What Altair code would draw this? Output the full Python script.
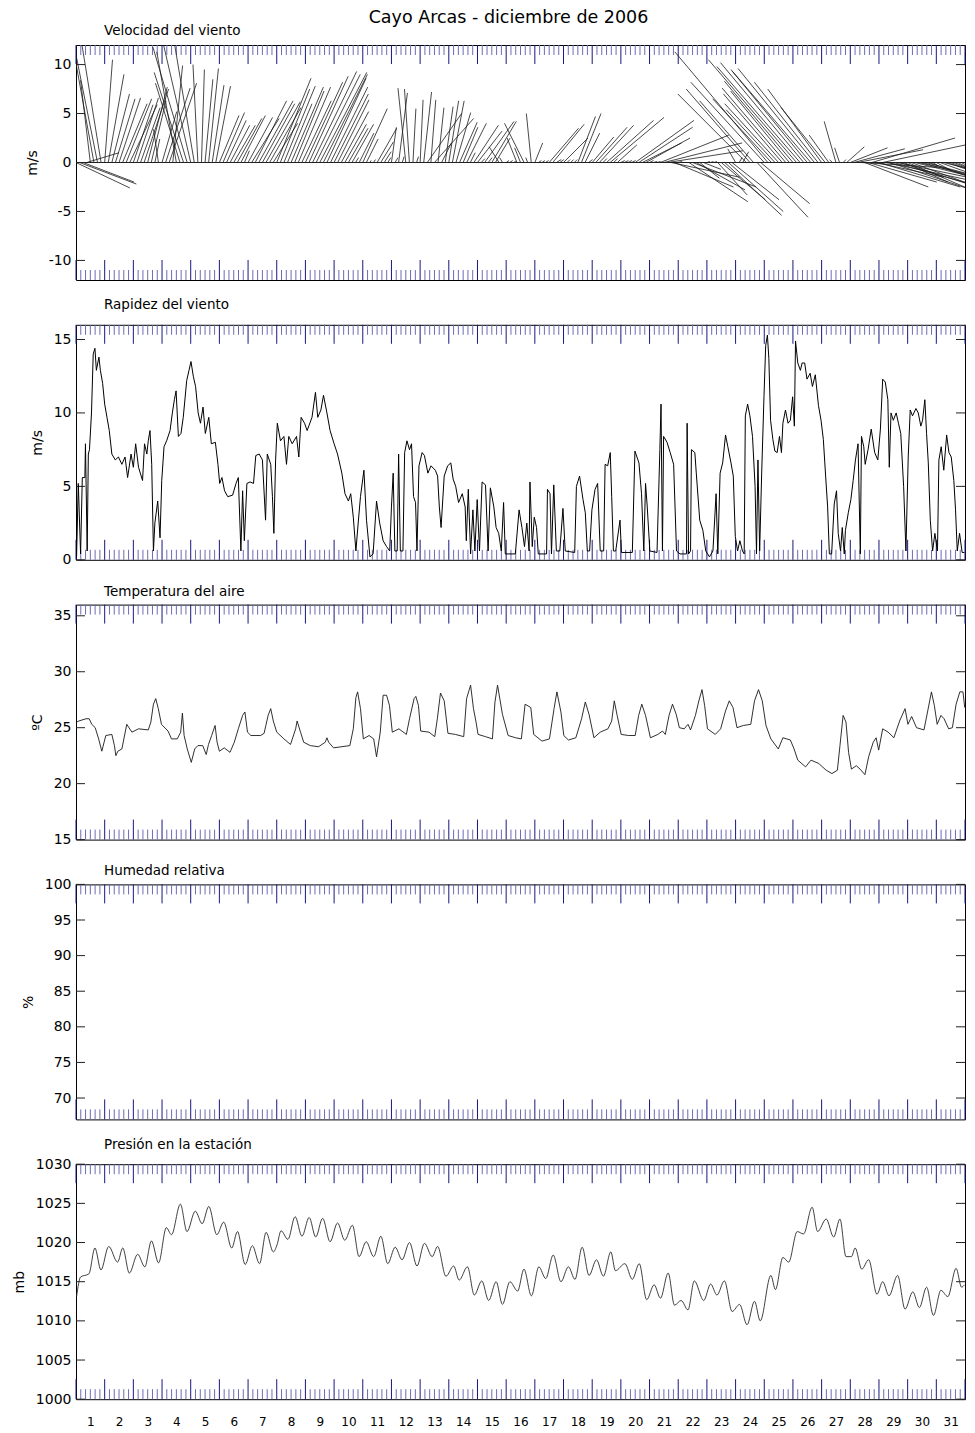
import altair as alt
import pandas as pd

# ---------------------------------------------------------------- text
TITLE = "Cayo Arcas - diciembre de 2006"
PANEL_TITLES = ["Velocidad del viento", "Rapidez del viento", "Temperatura del aire",
                "Humedad relativa", "Presión en la estación"]
Y_TITLES = ["m/s", "m/s", "ºC", "%", "mb"]
Y_DOMAINS = [[-12, 12], [0, 16], [15, 36], [67, 100], [1000, 1030]]
Y_TICKS = [[-10, -5, 0, 5, 10], [0, 5, 10, 15], [15, 20, 25, 30, 35],
           [70, 75, 80, 85, 90, 95, 100], [1000, 1005, 1010, 1015, 1020, 1025, 1030]]
DAYS = list(range(1, 32))

# ---------------------------------------------------------------- wind vectors (3-hourly sticks)
STICK_T = [d + h / 8 for d in DAYS for h in range(8)]
STICK_U = [
    5.5, 5.8, 5.2, 3.3, -1.0, -2.5, -2.6, -2.0,      # 1
    0.8, 1.6, 1.8, 2.0, 2.2, 2.5, 2.6, 2.8,          # 2
    2.0, 2.2, 2.0, 2.5, 2.0, 1.5, 0.5, -0.5,         # 3
    1.5, 2.5, 2.8, 1.0, -2.0, -2.5, -3.0, -3.5,      # 4
    -3.0, -2.0, -0.5, 0.3, 0.8, 1.0, 1.2, 1.5,       # 5
    2.0, 2.2, 2.0, 2.0, 2.2, 2.5, 2.5, 0.5,          # 6
    2.5, 2.8, 3.2, 3.5, 3.3, 3.5, 3.2, 2.5,          # 7
    3.5, 3.0, 3.2, 2.5, 3.3, 3.0, 3.3, 3.0,          # 8
    3.8, 4.0, 4.5, 4.5, 4.8, 4.5, 4.0, 3.8,          # 9
    3.5, 3.2, 2.8, 2.2, 2.0, 2.2, 0.3, 1.5,          # 10
    2.5, 1.2, 0.1, 0.2, 2.0, 1.3, 0.7, 0.3,          # 11
    0.5, 0.3, 0.9, 0.2, -0.8, -0.5, 0.3, 0.2,        # 12
    0.3, 0.8, 3.5, 0.5, 4.0, 0.6, 1.0, 0.8,          # 13
    1.0, 1.2, 1.5, 1.8, 1.5, 2.0, 0.5, 2.5,          # 14
    2.5, 0.4, 3.0, 0.4, 2.5, 1.5, -1.0, -0.3,        # 15
    0.3, 0.3, 0.3, -1.0, -0.6, -2.0, -0.2, -0.5,     # 16
    0.8, 0.3, 0.3, 0.3, 3.0, 3.2, 0.5, 0.4,          # 17
    2.5, 0.3, 0.3, 0.3, 1.8, 2.0, 1.5, 0.4,          # 18
    2.2, 3.2, 3.5, 0.4, 4.8, 5.5, 0.4, 2.0,          # 19
    0.4, 0.4, 0.4, 0.4, 6.0, 5.5, 4.0, 4.5,          # 20
    0.4, 0.4, 0.4, 7.0, 8.0, 7.7, 7.0, 6.0,          # 21
    0.4, 0.4, 0.4, 6.0, 6.5, 5.0, 2.0, 1.8,          # 22
    0.3, 0.3, 0.3, 3.0, 4.5, 5.8, 5.6, 4.8,          # 23
    -0.8, 0.3, 0.6, -7.0, -6.5, -5.5, 5.2, 5.0,      # 24
    -7.5, -9.5, -6.0, -5.0, -5.5, -6.0, -6.5, -6.0,  # 25
    -7.0, -9.0, -8.5, -8.5, -7.8, -8.0, -7.8, -6.5,  # 26
    -5.5, -4.5, -2.0, -0.3, -1.2, -0.5, 0.3, 1.8,    # 27
    3.8, 5.2, 6.7, 7.8, 6.5, 7.0, 8.5, 7.0,          # 28
    8.3, 11.8, 11.8, 9.0, 9.0, 9.6, 8.2, 4.5,        # 29
    6.5, 9.5, 10.0, 9.7, 9.0, 10.5, 7.0, 0.5,        # 30
    1.5, 7.0, 6.0, 8.0, 6.8, 5.0, 1.0, 1.5,          # 31
]
STICK_V = [
    -2.6, -2.2, -2.0, 1.0, 8.4, 13.8, 13.0, 12.3,    # 1
    10.5, 9.0, 7.0, 6.5, 6.6, 6.0, 6.5, 5.9,         # 2
    5.9, 6.6, 5.6, 7.5, 7.7, 6.3, 2.4, 3.4,          # 3
    5.2, 7.6, 8.1, 9.9, 11.3, 8.1, 9.2, 11.8,        # 4
    13.0, 12.0, 10.0, 9.5, 8.5, 9.6, 7.9, 7.8,       # 5
    4.8, 5.1, 4.3, 3.8, 3.8, 4.5, 4.8, 1.2,          # 6
    4.6, 4.5, 6.3, 6.3, 6.0, 6.2, 5.6, 4.0,          # 7
    8.6, 7.5, 7.8, 6.0, 7.7, 7.3, 7.7, 6.3,          # 8
    8.2, 8.8, 9.3, 9.0, 9.2, 9.0, 8.6, 7.7,          # 9
    7.0, 6.4, 5.2, 3.9, 3.5, 3.9, 0.5, 3.0,          # 10
    5.5, 2.4, 0.2, 0.3, 3.5, 2.1, 1.1, 0.5,          # 11
    3.6, 0.5, 7.1, 0.6, 7.6, 7.5, 5.5, 0.6,          # 12
    6.4, 7.2, 5.0, 6.4, 4.5, 5.6, 2.0, 5.7,          # 13
    6.3, 6.3, 5.1, 4.1, 3.6, 4.0, 1.0, 3.8,          # 14
    3.2, 0.4, 4.2, 0.5, 4.2, 2.5, 1.6, 0.5,          # 15
    0.2, 0.2, 0.1, 2.5, 1.5, 4.0, 0.5, 5.0,          # 16
    2.0, 0.2, 0.2, 0.2, 3.5, 3.9, 0.3, 0.3,          # 17
    2.5, 0.3, 0.3, 0.3, 4.7, 5.0, 3.0, 0.3,          # 18
    2.6, 3.6, 3.8, 0.4, 4.3, 4.6, 0.4, 1.8,          # 19
    0.2, 0.2, 0.2, 0.2, 4.3, 3.6, 2.0, 2.5,          # 20
    0.2, 0.1, 0.1, 2.8, 2.0, 1.2, -1.5, -2.5,        # 21
    0.1, 0.0, 0.0, -4.0, -2.5, -2.8, -1.6, -0.7,     # 22
    0.1, 0.1, 0.1, -3.3, -3.8, -5.4, -5.0, -3.8,     # 23
    1.4, 0.5, 1.1, 7.0, 7.5, 6.3, -5.6, -4.2,        # 24
    8.2, 11.3, 6.5, 5.4, 6.0, 7.0, 7.6, 7.3,         # 25
    8.3, 10.5, 9.8, 10.2, 9.5, 9.3, 9.6, 8.2,        # 26
    7.5, 5.6, 2.8, 0.3, 4.2, 1.5, 0.3, 1.6,          # 27
    1.5, 1.4, 1.3, -0.5, -2.5, -2.0, 2.5, -1.5,      # 28
    -2.5, 2.5, -2.5, -3.0, -2.5, -2.0, -2.6, -2.0,   # 29
    -2.8, -3.5, -2.5, -2.3, -2.5, -2.8, -2.5, -0.3,  # 30
    -0.8, -2.5, -1.5, -2.8, -2.5, -2.0, -0.5, -0.8,  # 31
]

# ---------------------------------------------------------------- wind speed (m/s)
SPD_T = [1.02, 1.08, 1.16, 1.22, 1.31, 1.33, 1.39, 1.43, 1.47, 1.54, 1.60, 1.66, 1.71, 1.80, 1.85, 1.93,
         2.00, 2.08, 2.16, 2.25, 2.37, 2.48, 2.60, 2.71, 2.80, 2.92, 3.00, 3.08, 3.18, 3.32, 3.39, 3.47,
         3.52, 3.58, 3.64, 3.70, 3.75, 3.85, 3.93, 3.99, 4.07, 4.16, 4.28, 4.36, 4.43, 4.49, 4.57, 4.66,
         4.74, 4.86, 4.94, 5.01, 5.09, 5.17, 5.26, 5.34, 5.43, 5.51, 5.63, 5.72, 5.86, 5.95, 6.01, 6.09,
         6.18, 6.29, 6.46, 6.58, 6.66, 6.75, 6.81, 6.87, 6.96, 7.07, 7.19, 7.27, 7.39, 7.50, 7.61, 7.67,
         7.79, 7.85, 7.90, 7.96, 8.02, 8.13, 8.25, 8.34, 8.42, 8.54, 8.69, 8.77, 8.85, 8.97, 9.06, 9.23,
         9.35, 9.43, 9.54, 9.63, 9.75, 9.86, 10.00, 10.12, 10.27, 10.38, 10.50, 10.58, 10.67, 10.76, 10.84, 10.92,
         11.04, 11.13, 11.25, 11.36, 11.48, 11.59, 11.71, 11.83, 11.94,
         12.00, 12.06, 12.12, 12.20, 12.25, 12.31, 12.40, 12.46, 12.54, 12.63, 12.70, 12.77, 12.84, 12.89, 12.96, 13.07,
         13.15, 13.27, 13.38, 13.53, 13.61, 13.67, 13.73, 13.84, 13.96, 14.07, 14.15, 14.24, 14.34, 14.47, 14.57, 14.61,
         14.68, 14.76, 14.84, 14.91, 14.99, 15.07, 15.16, 15.28, 15.37, 15.45, 15.57, 15.65, 15.74, 15.83, 15.91, 15.97,
         16.32, 16.45, 16.55, 16.64, 16.72, 16.80, 16.83, 16.91, 16.98, 17.06, 17.12, 17.41, 17.44, 17.53, 17.58, 17.66,
         17.75, 17.87, 17.98, 18.06, 18.39, 18.45, 18.56, 18.68, 18.76, 18.83, 18.91, 18.99, 19.10, 19.19, 19.28, 19.40,
         19.45, 19.54, 19.63, 19.68, 19.74, 19.82, 19.97, 20.02, 20.40, 20.49, 20.63, 20.72, 20.80, 20.86, 20.92, 21.01,
         21.26, 21.36, 21.40, 21.45, 21.49, 21.61, 21.72, 21.84,
         21.94, 22.06, 22.29, 22.31, 22.36, 22.43, 22.46, 22.58, 22.63, 22.75, 22.86, 22.96, 23.09, 23.21, 23.32, 23.38,
         23.46, 23.55, 23.65, 23.73, 23.84, 23.92, 23.99, 24.07, 24.15, 24.24, 24.30, 24.34, 24.42, 24.50, 24.59, 24.68,
         24.73, 24.78, 24.84, 24.91, 24.99, 25.05, 25.11, 25.16, 25.22, 25.30, 25.37, 25.45, 25.53, 25.60, 25.65, 25.74,
         25.83, 25.91, 25.99, 26.05, 26.09, 26.17, 26.26, 26.32, 26.41, 26.49, 26.60, 26.68, 26.78, 26.89, 26.98, 27.06,
         27.14, 27.21, 27.27, 27.35, 27.44, 27.52, 27.58, 27.66, 27.72, 27.79, 27.83, 27.93, 28.02, 28.10, 28.18, 28.27,
         28.35, 28.39, 28.47, 28.52, 28.62, 28.73, 28.85, 28.96, 29.05, 29.13, 29.22, 29.31, 29.36, 29.42, 29.50, 29.60,
         29.68, 29.76, 29.86, 29.94, 30.02, 30.09, 30.17, 30.29, 30.37, 30.46, 30.52, 30.60, 30.66, 30.72, 30.79, 30.87,
         30.95, 31.04, 31.09, 31.17, 31.26, 31.36, 31.44, 31.52, 31.61, 31.67, 31.73, 31.81, 31.90, 31.98]
SPD_V = [0.2, 5.2, 0.4, 5.6, 5.6, 7.9, 0.6, 7.2, 7.5, 10.0, 14.0, 14.4, 12.9, 13.8, 12.9, 12.0,
         10.6, 9.7, 8.8, 7.2, 6.8, 7.0, 6.5, 7.0, 5.6, 7.2, 6.3, 7.9, 6.3, 5.4, 7.9, 7.2,
         8.1, 8.8, 6.5, 0.6, 2.5, 4.0, 1.5, 5.4, 7.7, 8.1, 8.8, 10.0, 10.9, 11.5, 8.4, 8.6,
         9.7, 12.2, 12.9, 13.5, 12.5, 11.8, 10.0, 9.3, 10.4, 8.6, 9.7, 7.9, 8.0, 6.5, 5.2, 5.6,
         4.7, 4.3, 4.4, 5.2, 5.6, 0.6, 4.7, 1.3, 5.2, 5.3, 5.2, 7.1, 7.2, 6.8, 2.7, 7.2,
         6.5, 4.3, 1.8, 6.8, 9.3, 8.1, 8.4, 6.5, 8.4, 7.9, 8.4, 7.0, 9.7, 9.3, 8.8, 9.7,
         11.4, 9.7, 10.2, 11.2, 10.0, 8.8, 7.9, 7.2, 5.9, 4.5, 4.0, 4.5, 2.9, 0.6, 2.5, 4.3,
         6.1, 2.7, 0.2, 0.4, 4.0, 2.5, 1.3, 0.9, 0.6,
         3.6, 5.9, 0.6, 0.6, 7.2, 0.6, 0.6, 7.3, 8.1, 7.5, 7.9, 4.3, 3.9, 0.6, 6.4, 7.3,
         7.1, 5.9, 6.4, 6.1, 5.7, 3.6, 2.2, 5.7, 6.4, 6.6, 5.5, 5.0, 3.9, 4.5, 3.6, 1.3,
         4.8, 0.4, 3.4, 0.6, 4.1, 0.6, 5.3, 5.1, 0.6, 4.9, 3.6, 2.2, 1.8, 0.6, 3.9, 0.4,
         0.4, 3.4, 2.2, 0.9, 2.5, 0.6, 5.3, 0.9, 2.9, 2.2, 0.4, 0.4, 4.8, 4.5, 0.4, 5.1,
         0.6, 0.6, 3.5, 0.6, 0.5, 5.0, 5.7, 4.1, 3.2, 0.6, 0.6, 3.4, 4.8, 5.2, 0.6, 0.6,
         6.5, 6.4, 7.3, 4.3, 0.6, 0.6, 2.7, 0.5, 0.5, 7.4, 6.6, 4.5, 0.6, 5.2, 3.6, 0.6,
         0.5, 7.5, 10.6, 0.6, 8.4, 8.0, 7.3, 6.5,
         0.6, 0.4, 0.4, 9.3, 0.4, 0.6, 7.5, 7.3, 5.9, 2.7, 2.0, 0.6, 0.2, 0.6, 4.5, 0.4,
         5.9, 6.6, 8.5, 7.7, 6.6, 5.7, 1.6, 0.6, 1.3, 0.6, 0.4, 9.8, 10.6, 9.8, 8.4, 5.0,
         0.4, 6.8, 0.6, 5.9, 11.1, 14.6, 15.3, 13.7, 9.5, 8.2, 7.4, 7.3, 8.4, 7.3, 9.3, 10.2,
         9.3, 9.5, 11.1, 9.1, 14.9, 13.4, 12.9, 13.4, 13.4, 12.3, 12.7, 11.8, 12.6, 10.5, 9.5, 8.2,
         5.7, 3.6, 0.4, 0.4, 3.8, 4.7, 1.8, 0.6, 2.2, 0.4, 2.0, 3.2, 4.1, 5.4, 6.8, 7.9,
         0.4, 8.4, 7.7, 6.5, 7.5, 8.9, 7.3, 6.8, 8.9, 12.3, 12.1, 10.9, 6.3, 10.0, 9.5, 10.0,
         9.3, 8.6, 5.0, 0.6, 7.0, 10.2, 9.8, 10.3, 10.0, 9.1, 9.5, 10.9, 8.6, 6.6, 2.7, 0.6,
         1.8, 0.6, 6.8, 7.7, 6.1, 8.5, 7.3, 7.0, 5.4, 3.4, 0.6, 1.8, 0.5, 0.5]

# ---------------------------------------------------------------- air temperature (ºC)
TMP_T = [1.02, 1.10, 1.35, 1.46, 1.55, 1.67, 1.79, 1.90, 2.04, 2.25, 2.34, 2.39, 2.46, 2.60, 2.77, 2.95,
         3.18, 3.52, 3.61, 3.70, 3.78, 3.87, 3.98, 4.21, 4.33, 4.53, 4.65, 4.71, 4.77, 4.88, 5.02, 5.14,
         5.25, 5.42, 5.54, 5.62, 5.73, 5.85, 5.92, 6.00, 6.17, 6.37, 6.52, 6.66, 6.81, 6.89, 6.98, 7.10,
         7.44, 7.56, 7.62, 7.70, 7.79, 7.88, 8.00, 8.25, 8.48, 8.66, 8.71, 8.83, 8.94, 9.17, 9.46, 9.69,
         9.75, 9.81, 9.98, 10.55, 10.67, 10.76, 10.82, 10.92, 11.02, 11.22, 11.38, 11.48,
         11.61, 11.71, 11.83, 11.93, 12.03, 12.26, 12.52, 12.63, 12.79, 12.85, 12.94, 13.02, 13.31, 13.51, 13.60, 13.71,
         13.84, 13.97, 14.23, 14.52, 14.62, 14.76, 14.86, 14.95, 15.02, 15.28, 15.52, 15.61, 15.70, 15.87, 16.07, 16.33,
         16.53, 16.66, 16.86, 16.96, 17.25, 17.51, 17.67, 17.77, 17.91, 18.01, 18.17, 18.43, 18.63, 18.76, 18.89, 19.06,
         19.28, 19.55, 19.68, 19.77, 19.87, 20.01, 20.27, 20.50, 20.62, 20.73, 20.86, 21.03, 21.29, 21.45, 21.55, 21.68,
         21.80, 21.93, 22.04, 22.21, 22.34, 22.43, 22.60, 22.72, 22.83, 22.92, 23.02, 23.29, 23.48, 23.65, 23.78, 23.91,
         24.05, 24.27, 24.53, 24.66, 24.80, 24.93, 25.06, 25.23, 25.49, 25.65, 25.91, 26.04, 26.17, 26.44, 26.63, 26.90,
         27.16, 27.36, 27.55, 27.64, 27.75, 27.85, 27.94, 28.04, 28.21, 28.34, 28.51, 28.64, 28.80, 28.90, 28.99, 29.13,
         29.32, 29.52, 29.72, 29.91, 30.01, 30.14, 30.31, 30.57, 30.70, 30.83, 30.93, 31.03, 31.16, 31.27, 31.43, 31.56,
         31.69, 31.82, 31.93, 31.99]
TMP_V = [25.5, 25.6, 25.8, 25.8, 25.3, 25.0, 24.0, 22.9, 24.3, 24.4, 23.4, 22.5, 22.9, 23.1, 25.3, 24.6,
         24.9, 24.8, 25.5, 27.1, 27.6, 26.7, 25.3, 24.7, 24.0, 24.0, 24.6, 26.3, 24.3, 23.1, 21.9, 23.1,
         23.4, 23.4, 22.6, 23.5, 24.3, 25.2, 23.7, 22.9, 23.2, 22.8, 23.7, 24.9, 26.1, 26.4, 24.6, 24.3,
         24.3, 24.5, 25.2, 26.1, 26.7, 25.6, 24.6, 24.0, 23.5, 24.9, 25.6, 24.6, 23.7, 23.4, 23.3, 23.7,
         24.1, 23.7, 23.2, 23.4, 24.9, 27.7, 28.2, 26.7, 24.0, 24.3, 24.0, 22.4,
         24.6, 27.9, 27.9, 27.0, 24.6, 24.9, 24.4, 25.8, 27.6, 27.8, 27.0, 24.7, 24.6, 24.2, 25.8, 28.1,
         27.4, 24.5, 24.4, 24.2, 27.6, 28.8, 26.7, 25.5, 24.4, 24.2, 24.0, 27.3, 28.8, 26.2, 24.3, 24.1,
         24.0, 27.1, 26.8, 24.4, 23.8, 24.0, 26.7, 28.2, 26.4, 24.3, 23.9, 24.1, 25.8, 27.3, 26.2, 24.1,
         24.6, 24.9, 25.6, 27.4, 26.1, 24.4, 24.3, 24.3, 26.1, 27.1, 26.1, 24.1, 24.4, 24.7, 24.4, 26.1,
         27.1, 26.2, 25.0, 24.9, 25.3, 24.8, 26.1, 27.4, 28.4, 27.0, 24.9, 24.4, 24.9, 26.5, 27.4, 26.8,
         25.0, 25.2, 25.3, 27.4, 28.4, 27.4, 25.2, 24.0, 23.1, 24.1, 23.9, 23.1, 22.1, 21.5, 22.1, 21.8,
         21.2, 20.9, 21.2, 23.4, 26.1, 25.5, 22.8, 21.3, 21.6, 21.3, 20.8, 22.4, 23.7, 24.1, 23.0, 24.9,
         24.6, 24.1, 25.6, 26.7, 25.3, 26.0, 25.0, 24.8, 26.5, 28.2, 27.0, 25.3, 26.1, 25.8, 24.9, 25.0,
         27.1, 28.2, 28.2, 26.8]

# ---------------------------------------------------------------- station pressure (mb)
PRS_T = [1.02, 1.16, 1.45, 1.66, 1.87, 2.14, 2.45, 2.63, 2.86, 3.15, 3.40, 3.63, 3.88, 4.15, 4.33, 4.64,
         4.87, 5.16, 5.40, 5.63, 5.91, 6.15, 6.43, 6.63, 6.90, 7.15, 7.40, 7.63, 7.88, 8.01, 8.15, 8.39,
         8.64, 8.88, 9.13, 9.36, 9.60, 9.86, 10.12, 10.37, 10.64, 10.87, 11.12, 11.38, 11.63, 11.87, 12.13, 12.37,
         12.63, 12.89, 13.15, 13.42, 13.61, 13.90, 14.17, 14.36, 14.65, 14.89, 15.15, 15.39, 15.65, 15.87, 16.13, 16.40,
         16.62, 16.88, 17.14, 17.38, 17.64, 17.91, 18.17, 18.40, 18.65, 18.89, 19.15, 19.39, 19.65, 19.81, 20.14, 20.40,
         20.64, 20.90, 21.16, 21.38, 21.65, 21.87, 22.10, 22.34, 22.56, 22.89, 23.13, 23.35, 23.61, 23.88, 24.14, 24.40,
         24.66, 24.86, 25.23, 25.39, 25.65, 25.85, 26.15, 26.37, 26.67, 26.86, 27.16, 27.42, 27.64, 27.85, 28.04, 28.17,
         28.40, 28.64, 28.93, 29.13, 29.35, 29.65, 29.91, 30.18, 30.41, 30.66, 30.90, 31.16, 31.40, 31.69, 31.88, 31.98]
PRS_V = [1013.1, 1015.6, 1016.0, 1019.3, 1016.5, 1019.5, 1017.5, 1019.3, 1016.1, 1018.5, 1016.9, 1020.2, 1017.4, 1021.9, 1021.0, 1024.9,
         1021.4, 1024.0, 1022.4, 1024.6, 1021.0, 1022.6, 1019.3, 1021.4, 1017.2, 1019.6, 1017.3, 1021.3, 1018.8, 1019.7, 1021.5, 1020.4,
         1023.3, 1020.8, 1023.2, 1020.7, 1023.1, 1020.1, 1022.5, 1020.3, 1022.2, 1018.2, 1020.1, 1018.2, 1020.8, 1017.3, 1019.4, 1017.8,
         1020.0, 1017.0, 1019.9, 1018.2, 1019.5, 1015.7, 1017.0, 1015.2, 1016.9, 1013.3, 1015.1, 1012.6, 1015.0, 1012.1, 1015.0, 1013.8,
         1016.6, 1013.2, 1016.9, 1015.4, 1018.4, 1015.0, 1016.9, 1015.3, 1019.4, 1015.8, 1017.8, 1015.7, 1018.8, 1016.4, 1017.3, 1015.3,
         1017.3, 1012.7, 1014.6, 1012.9, 1016.1, 1012.0, 1012.6, 1011.4, 1015.1, 1012.6, 1014.7, 1013.3, 1015.1, 1011.2, 1012.1, 1009.5,
         1012.5, 1010.0, 1015.8, 1014.0, 1018.1, 1017.5, 1021.4, 1021.1, 1024.5, 1021.4, 1023.0, 1020.7, 1023.0, 1018.2, 1018.2, 1019.3,
         1016.6, 1017.8, 1013.4, 1015.0, 1013.2, 1015.8, 1011.5, 1013.7, 1011.7, 1014.3, 1010.7, 1013.9, 1013.1, 1016.7, 1014.3, 1014.6]

# ---------------------------------------------------------------- layout / style
W, H = 889, 235
FONT = "DejaVu Sans"
TICK_MAJOR = "#18187e"
TICK_MINOR = "#6c6cb6"
PANEL_TITLE_Y = [-14, -20, -13, -13, -19]   # px above each plot area
MAIN_TITLE_Y = -27

xs = alt.Scale(domain=[1, 32], nice=False, zero=False)
n_ticks = 31 * 6 + 1
tick_df = pd.DataFrame({"t": [1 + k / 6 for k in range(n_ticks)],
                        "major": [k % 6 == 0 for k in range(n_ticks)]})

X_LABEL_AXIS = alt.Axis(values=[d + 0.5 for d in DAYS], labelExpr="floor(datum.value)", ticks=False,
                        domain=False, grid=False, labelPadding=17, title=None, labelFlush=False,
                        labelFontSize=12, labelOverlap=False)


def time_tick_layers(xaxis):
    base = alt.Chart(tick_df)
    X = alt.X("t:Q", scale=xs, axis=xaxis)
    maj = base.transform_filter("datum.major")
    mnr = base.transform_filter("!datum.major")
    return [
        maj.mark_rule(color=TICK_MAJOR, strokeWidth=1).encode(x=X, y=alt.value(0), y2=alt.value(19)),
        mnr.mark_rule(color=TICK_MINOR, strokeWidth=1).encode(x=X, y=alt.value(0), y2=alt.value(10)),
        maj.mark_rule(color=TICK_MAJOR, strokeWidth=1).encode(x=X, y=alt.value(H - 20), y2=alt.value(H)),
        mnr.mark_rule(color=TICK_MINOR, strokeWidth=1).encode(x=X, y=alt.value(H - 10), y2=alt.value(H)),
    ]


def y_tick_layers(i, ys, yaxis):
    df = pd.DataFrame({"v": Y_TICKS[i]})
    left = alt.Chart(df).mark_rule(color="#222222", strokeWidth=1).encode(
        y=alt.Y("v:Q", scale=ys, axis=yaxis), x=alt.value(0), x2=alt.value(9))
    right = alt.Chart(df).mark_rule(color="#222222", strokeWidth=1).encode(
        y=alt.Y("v:Q", scale=ys, axis=yaxis), x=alt.value(W - 9), x2=alt.value(W))
    return [left, right]


def title_layers(i):
    out = [alt.Chart(pd.DataFrame({"label": [PANEL_TITLES[i]]})).mark_text(
        align="left", baseline="middle", font=FONT, fontSize=13.5, color="black").encode(
        text="label:N", x=alt.value(28), y=alt.value(PANEL_TITLE_Y[i]))]
    if i == 0:
        out.append(alt.Chart(pd.DataFrame({"label": [TITLE]})).mark_text(
            align="center", baseline="middle", font=FONT, fontSize=17.5, color="black").encode(
            text="label:N", x=alt.value(W / 2 - 12), y=alt.value(MAIN_TITLE_Y)))
    return out


def make_panel(i, data_layers, xaxis=None):
    ys = alt.Scale(domain=Y_DOMAINS[i], nice=False, zero=False)
    yaxis = alt.Axis(values=Y_TICKS[i], title=Y_TITLES[i], ticks=False, domain=False, grid=False,
                     labelPadding=5, titlePadding=9, labelExpr="'' + datum.value")
    layers = (time_tick_layers(xaxis) + y_tick_layers(i, ys, yaxis)
              + data_layers(ys, yaxis, xaxis) + title_layers(i))
    return alt.layer(*layers).properties(width=W, height=H)


# stick scale: 1 m/s on x the same length as 1 m/s on y
K = (H / (Y_DOMAINS[0][1] - Y_DOMAINS[0][0])) / (W / 31)
stick_df = pd.DataFrame({"t": STICK_T, "u": STICK_U, "v": STICK_V})
stick_df["t2"] = stick_df["t"] + stick_df["u"] * K
stick_df["base"] = 0.0


def velocity_layers(ys, yaxis, xaxis):
    zero = alt.Chart(pd.DataFrame({"z": [0]})).mark_rule(color="#222222", strokeWidth=1).encode(
        y=alt.Y("z:Q", scale=ys, axis=yaxis))
    sticks = alt.Chart(stick_df).mark_rule(color="#1a1a1a", strokeWidth=0.8, clip=True).encode(
        x=alt.X("t:Q", scale=xs, axis=xaxis), x2="t2:Q",
        y=alt.Y("base:Q", scale=ys, axis=yaxis), y2="v:Q")
    return [zero, sticks]


def speed_layers(ys, yaxis, xaxis):
    df = pd.DataFrame({"t": SPD_T, "s": SPD_V})
    return [alt.Chart(df).mark_line(color="black", strokeWidth=1, clip=True).encode(
        x=alt.X("t:Q", scale=xs, axis=xaxis), y=alt.Y("s:Q", scale=ys, axis=yaxis))]


def temp_layers(ys, yaxis, xaxis):
    df = pd.DataFrame({"t": TMP_T, "c": TMP_V})
    return [alt.Chart(df).mark_line(color="#1a1a1a", strokeWidth=0.9, clip=True).encode(
        x=alt.X("t:Q", scale=xs, axis=xaxis), y=alt.Y("c:Q", scale=ys, axis=yaxis))]


def empty_layers(ys, yaxis, xaxis):
    return []


def pressure_layers(ys, yaxis, xaxis):
    df = pd.DataFrame({"t": PRS_T, "p": PRS_V})
    return [alt.Chart(df).mark_line(color="#2a2a2a", strokeWidth=0.9, interpolate="monotone", clip=True).encode(
        x=alt.X("t:Q", scale=xs, axis=xaxis), y=alt.Y("p:Q", scale=ys, axis=yaxis))]


panels = [
    make_panel(0, velocity_layers),
    make_panel(1, speed_layers),
    make_panel(2, temp_layers),
    make_panel(3, empty_layers),
    make_panel(4, pressure_layers, X_LABEL_AXIS),
]

chart = alt.vconcat(*panels, spacing=44.8, bounds="flush").properties(
    padding={"left": 3, "top": 0, "right": 0, "bottom": 4},
).configure_view(stroke="black", strokeWidth=1).configure_axis(
    labelFont=FONT, titleFont=FONT, labelFontSize=14, titleFontSize=14,
    labelColor="black", titleColor="black", titleFontWeight="normal",
)

chart.save("out.html", embed_options={"renderer": "svg", "actions": False})
